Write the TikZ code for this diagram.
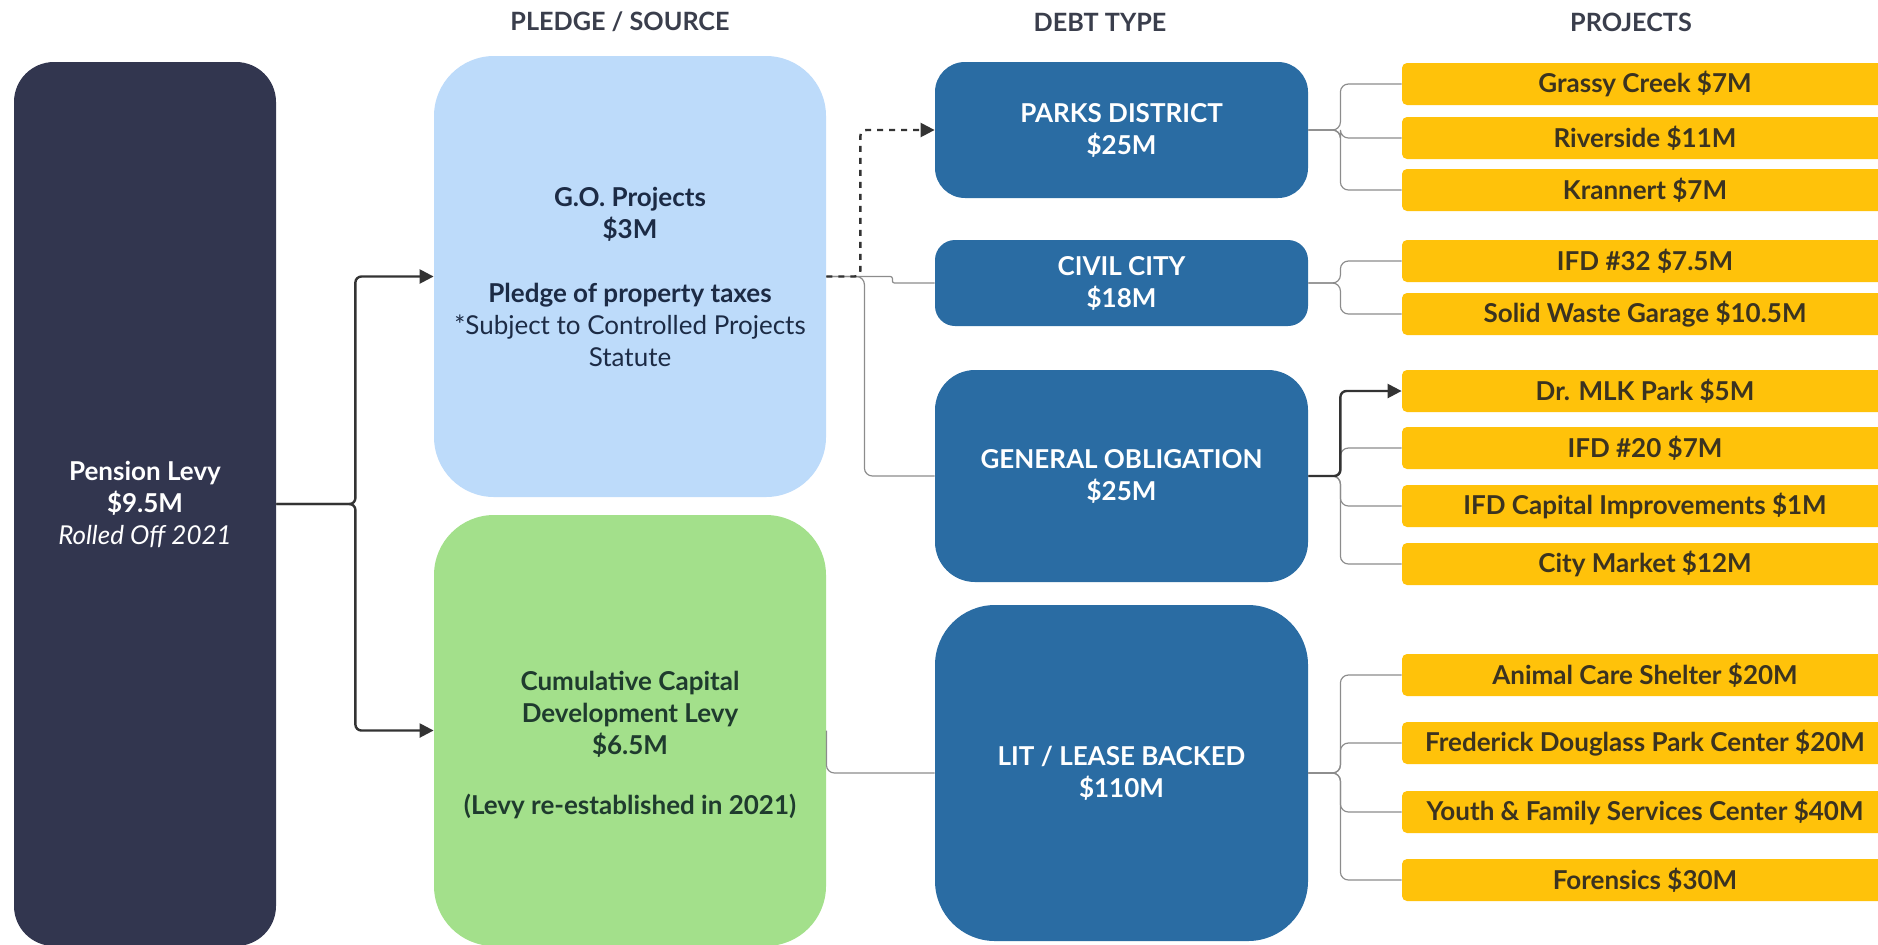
\documentclass[tikz,border=0pt]{standalone}
\usepackage{fontspec}
\setmainfont{Lato}
\usetikzlibrary{arrows.meta}
\definecolor{levynavy}{HTML}{32364F}
\definecolor{goblue}{HTML}{BDDBFA}
\definecolor{ccdgreen}{HTML}{A3E08B}
\definecolor{debtblue}{HTML}{2A6CA3}
\definecolor{projyellow}{HTML}{FFC20A}
\definecolor{headgray}{HTML}{3A3E4C}
\definecolor{gotext}{HTML}{1C2B45}
\definecolor{ccdtext}{HTML}{1F3B2E}
\definecolor{projtext}{HTML}{3B3320}
\definecolor{linkgray}{HTML}{8C8C8C}
\definecolor{arrowdark}{HTML}{333333}
\tikzset{
    box/.style = {draw=none, align=center, inner sep=0pt,
        font=\bfseries\fontsize{13}{16}\selectfont},
    levy box/.style = {box, fill=levynavy, text=white, rounded corners=20pt,
        minimum width=131pt, minimum height=442pt},
    source box/.style = {box, rounded corners=30pt, minimum width=196pt},
    debt box/.style = {box, fill=debtblue, text=white, minimum width=186.5pt},
    project/.style = {box, fill=projyellow, text=projtext, rounded corners=2.5pt,
        minimum width=243pt, minimum height=21pt},
    heading/.style = {font=\bfseries\fontsize{12.6}{14}\selectfont, text=headgray},
}
\tikzset{
    feed/.style = {draw=arrowdark, line width=1.2pt, rounded corners=3pt,
        -{Triangle[length=7pt,width=7pt]}},
    link/.style = {draw=linkgray, line width=0.6pt, rounded corners=4pt},
}

\begin{document}
\begin{tikzpicture}[x=0.5pt, y=-0.5pt]
    \useasboundingbox (0,0) rectangle (1878,944);

    \node[heading] (h1) at (620, 22) {PLEDGE / SOURCE};
    \node[heading] (h2) at (1100, 22) {DEBT TYPE};
    \node[heading] (h3) at (1631, 22) {PROJECTS};

    \node[levy box] (pension) at (145, 504) {Pension Levy\\\$9.5M\\{\mdseries\itshape Rolled Off 2021}};

    \node[source box, fill=goblue, text=gotext, minimum height=220.5pt] (go) at (630, 276.5)
        {G.O. Projects\\\$3M\\[16pt]Pledge of property taxes\\{\mdseries *Subject to Controlled Projects}\\{\mdseries Statute}};
    \node[source box, fill=ccdgreen, text=ccdtext, minimum height=215.5pt] (ccd) at (630, 730.5)
        {\mbox{}\\[8pt]Cumulative Capital\\Development Levy\\\$6.5M\\[14pt](Levy re-established in 2021)};

    \node[debt box, rounded corners=15pt, minimum height=68pt] (parks) at (1121.5, 130) {PARKS DISTRICT\\\$25M};
    \node[debt box, rounded corners=10pt, minimum height=43pt] (civil) at (1121.5, 283) {CIVIL CITY\\\$18M};
    \node[debt box, rounded corners=20pt, minimum height=106pt] (genob) at (1121.5, 476) {GENERAL OBLIGATION\\\$25M};
    \node[debt box, rounded corners=30pt, minimum height=168pt] (lit) at (1121.5, 773) {LIT / LEASE BACKED\\\$110M};

    \node[project] (grassy) at (1645, 84) {Grassy Creek \$7M};
    \node[project] (riverside) at (1645, 138) {Riverside \$11M};
    \node[project] (krannert) at (1645, 190) {Krannert \$7M};
    \node[project] (ifdtt) at (1645, 261) {IFD \#32 \$7.5M};
    \node[project] (waste) at (1645, 314) {Solid Waste Garage \$10.5M};
    \node[project] (mlk) at (1645, 391) {Dr. MLK Park \$5M};
    \node[project] (ifdtw) at (1645, 448) {IFD \#20 \$7M};
    \node[project] (ifdcap) at (1645, 506) {IFD Capital Improvements \$1M};
    \node[project] (market) at (1645, 564) {City Market \$12M};
    \node[project] (animal) at (1645, 675) {Animal Care Shelter \$20M};
    \node[project] (douglass) at (1645, 743) {Frederick Douglass Park Center \$20M};
    \node[project] (youth) at (1645, 812) {Youth \& Family Services Center \$40M};
    \node[project] (forensics) at (1645, 880) {Forensics \$30M};

    \draw[feed] (pension.east) -- ++(79,0) |- (go.west);
    \draw[feed] (pension.east) -- ++(79,0) |- (ccd.west);

    \draw[link, rounded corners=1pt] (go.east) -- ++(66,0) |- (civil.west);
    \draw[link] (go.east) -- ++(38,0) |- (genob.west);
    \draw[feed, dashed] (go.east) -- ++(34,0) |- (parks.west);
    \draw[link] (ccd.east) |- (lit.west);

    \draw[link] (parks.east) -- ++(32,0) |- (grassy.west);
    \draw[link] (parks.east) -- ++(32,0) |- (riverside.west);
    \draw[link] (parks.east) -- ++(32,0) |- (krannert.west);
    \draw[link] (civil.east) -- ++(32,0) |- (ifdtt.west);
    \draw[link] (civil.east) -- ++(32,0) |- (waste.west);
    \draw[link] (genob.east) -- ++(32,0) |- (ifdtw.west);
    \draw[link] (genob.east) -- ++(32,0) |- (ifdcap.west);
    \draw[link] (genob.east) -- ++(32,0) |- (market.west);
    \draw[feed] (genob.east) -- ++(32,0) |- (mlk.west);
    \draw[link] (lit.east) -- ++(32,0) |- (animal.west);
    \draw[link] (lit.east) -- ++(32,0) |- (douglass.west);
    \draw[link] (lit.east) -- ++(32,0) |- (youth.west);
    \draw[link] (lit.east) -- ++(32,0) |- (forensics.west);
\end{tikzpicture}
\end{document}
